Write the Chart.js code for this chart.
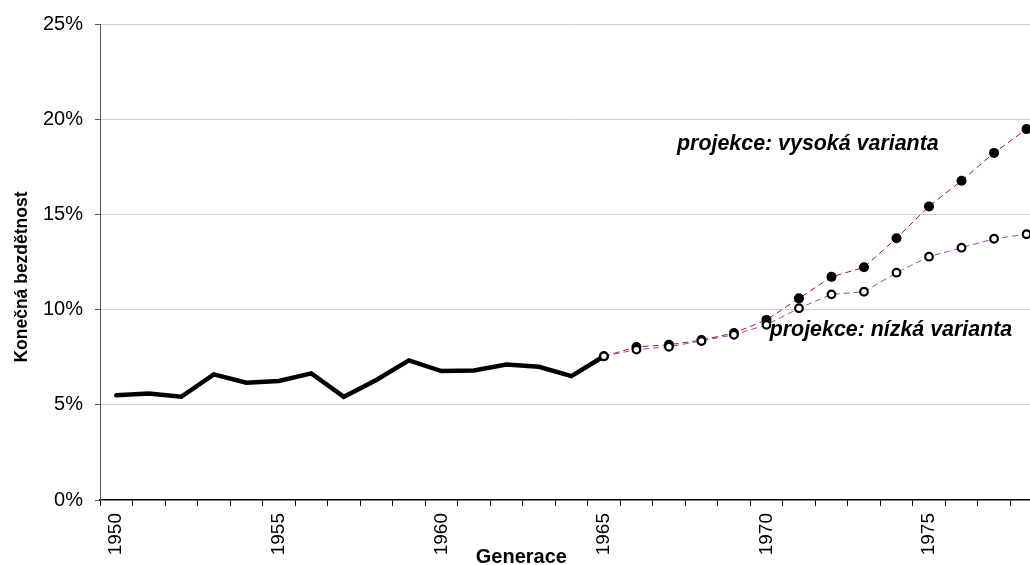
<!DOCTYPE html>
<html>
<head>
<meta charset="utf-8">
<script src="https://cdn.jsdelivr.net/npm/chart.js@4"></script>
<style>
  html, body { margin: 0; padding: 0; background: #fff; overflow: hidden; }
  #wrap { width: 1030px; height: 565px; overflow: hidden; }
</style>
</head>
<body>
<div id="wrap"><canvas id="mycanvas" width="1049" height="565"></canvas></div>
<script>
var years = [];
for (var y = 1950; y <= 1978; y++) years.push(String(y));

// namerena konecna bezdetnost (1950-1965), v %
var skutecnost = [5.5, 5.59, 5.42, 6.6, 6.16, 6.25, 6.65, 5.42, 6.3, 7.33, 6.77, 6.8, 7.12, 7.0, 6.51, 7.55];
// projekce 1965-1978
var vysoka = [7.55, 8.04, 8.15, 8.4, 8.77, 9.46, 10.59, 11.72, 12.22, 13.75, 15.42, 16.77, 18.23, 19.48];
var nizka = [7.55, 7.9, 8.05, 8.35, 8.68, 9.2, 10.07, 10.8, 10.94, 11.94, 12.78, 13.25, 13.72, 13.96];

var yTicks = [0, 5, 10, 15, 20, 25];

// popisky projekci: text, pozice v kategoriich, hodnota (uroven radku)
var popisky = ["projekce: vysoká varianta", "projekce: nízká varianta"];
var popiskyX = [17.25, 20.1];
var popiskyY = [18.4, 8.6];

function pad(arr, before, total) {
	var out = [];
	for (var i = 0; i < before; i++) out.push(null);
	for (var j = 0; j < arr.length; j++) out.push(arr[j]);
	while (out.length < total) out.push(null);
	return out;
}

var n = years.length;
var FONT = "'Liberation Sans', Arial, Helvetica, sans-serif";

var textyPlugin = {
	id: 'texty',
	afterDatasetsDraw: function(chart) {
		var ctx = chart.ctx;
		var xs = chart.scales.x;
		var ys = chart.scales.y;
		ctx.save();
		ctx.fillStyle = '#000';
		ctx.font = "italic bold 21.4px " + FONT;
		ctx.textAlign = 'left';
		ctx.textBaseline = 'alphabetic';
		for (var i = 0; i < popisky.length; i++) {
			ctx.fillText(popisky[i], xs.getPixelForValue(popiskyX[i]), ys.getPixelForValue(popiskyY[i]));
		}
		// nazvy os
		ctx.font = "bold 20px " + FONT;
		ctx.textAlign = 'center';
		ctx.fillText("Generace", xs.getPixelForValue(12.46), chart.height - 2);
		ctx.translate(27, 277);
		ctx.rotate(-Math.PI / 2);
		ctx.font = "bold 17.5px " + FONT;
		ctx.fillText("Konečná bezdětnost", 0, 0);
		ctx.restore();
	}
};

var chartdata = {
	labels: years,
	datasets: [
		{
			label: "nízká varianta",
			order: 0,
			data: pad(nizka, 15, n),
			borderColor: "#a43cc4",
			borderWidth: 1,
			borderDash: [6, 4],
			fill: false,
			pointRadius: 3.8,
			pointBorderWidth: 2.2,
			pointBackgroundColor: "#fff",
			pointBorderColor: "#000"
		},
		{
			label: "vysoká varianta",
			order: 1,
			data: pad(vysoka, 15, n),
			borderColor: "#a3141c",
			borderWidth: 1,
			borderDash: [6, 4],
			fill: false,
			pointRadius: 5,
			pointBorderWidth: 0,
			pointBackgroundColor: "#000",
			pointBorderColor: "#000"
		},
		{
			label: "skutečnost",
			order: 2,
			data: pad(skutecnost, 0, n),
			borderColor: "#000",
			borderWidth: 4.5,
			borderCapStyle: 'round',
			borderJoinStyle: 'miter',
			fill: false,
			pointRadius: 0
		}
	]
};

var ctx = document.getElementById("mycanvas");

var LineGraph = new Chart(ctx, {
	type: 'line',
	data: chartdata,
	plugins: [textyPlugin],
	options: {
		responsive: false,
		animation: false,
		devicePixelRatio: 1,
		layout: { padding: { top: 20, left: 0, right: 0, bottom: 0 } },
		plugins: {
			legend: { display: false },
			tooltip: { enabled: false }
		},
		scales: {
			x: {
				type: 'category',
				offset: true,
				afterFit: function(scale) {
					scale.height = 65;
					scale.paddingLeft = 0;
					scale.paddingRight = 0;
				},
				grid: {
					offset: true,
					drawOnChartArea: false,
					drawTicks: true,
					tickLength: 6,
					tickColor: '#000',
					tickWidth: 1
				},
				border: { color: '#000', width: 1.5 },
				ticks: {
					autoSkip: false,
					minRotation: 90,
					maxRotation: 90,
					padding: 7,
					color: '#000',
					font: { family: FONT, size: 19 },
					callback: function(value, index) {
						var lab = years[index];
						return (Number(lab) % 5 === 0) ? lab : '';
					}
				}
			},
			y: {
				min: 0,
				max: 25,
				afterFit: function(scale) { scale.width = 100; },
				afterBuildTicks: function(scale) {
					scale.ticks = yTicks.map(function(v) { return { value: v }; });
				},
				grid: {
					color: function(c) { return c.tick && c.tick.value === 0 ? 'rgba(0,0,0,0)' : '#cfcfcf'; },
					tickColor: '#555',
					tickLength: 5,
					lineWidth: 1
				},
				border: { color: '#555', width: 1 },
				ticks: {
					padding: 12,
					color: '#000',
					font: { family: FONT, size: 20 },
					callback: function(v) { return v + '%'; }
				}
			}
		}
	}
});
</script>
</body>
</html>
